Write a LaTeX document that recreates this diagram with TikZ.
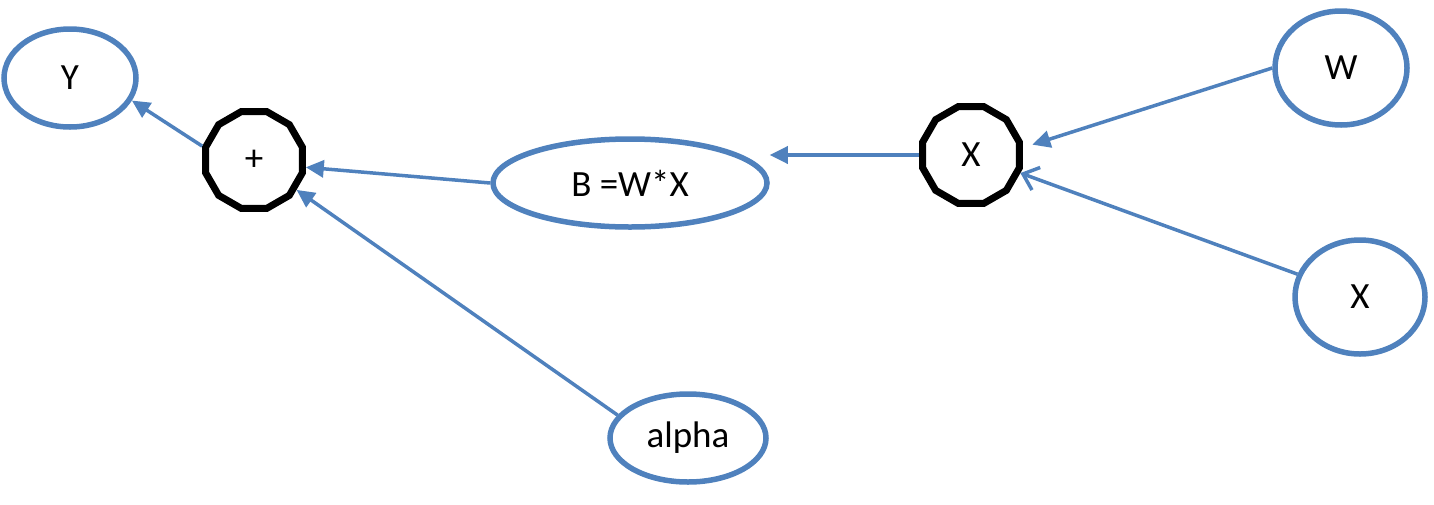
\documentclass[tikz,border=0pt]{standalone}
\usepackage{fontspec}
\setmainfont{Carlito}
\usepackage{xcolor}
\usetikzlibrary{shapes.geometric, arrows.meta}
\definecolor{ofblue}{RGB}{79,129,189}

\begin{document}
\begin{tikzpicture}[x=1pt, y=-1pt, >=Triangle,
    varnode/.style={ellipse, draw=ofblue, line width=5.5pt, inner sep=0pt,
        font=\fontsize{37}{40}\selectfont},
    opnode/.style={regular polygon, regular polygon sides=12, draw=black,
        line width=7pt, inner sep=0pt, minimum size=100pt,
        font=\fontsize{37}{40}\selectfont},
    flow/.style={draw=ofblue, line width=3.5pt, -{Triangle[length=18pt, width=17pt]}},
    openflow/.style={draw=ofblue, line width=3.5pt, -{Straight Barb[length=14pt, width=24pt, line width=3.5pt]}}]

    \useasboundingbox (0,0) rectangle (1434,504);

    % Inputs and result
    \node[varnode, minimum width=132pt, minimum height=98pt] (outY) at (70,78) {Y};
    \node[varnode, minimum width=132pt, minimum height=114pt] (inW) at (1341,68) {W};
    \node[varnode, minimum width=130pt, minimum height=114pt] (inX) at (1360,297) {X};
    \node[varnode, minimum width=156pt, minimum height=88pt] (alpha) at (688,438) {alpha};
    \node[varnode, minimum width=274pt, minimum height=88pt] (prodB) at (630,183) {B =W*X};

    % Operations
    \node[opnode] (plusop) at (254,160) {+};
    \node[opnode] (mulop) at (971,155) {X};

    % Connectors
    \draw[flow, shorten >=10pt] (inW.west) -- (mulop.8);
    \draw[openflow] (inX) -- (mulop);
    \draw[flow] (mulop.west) -- (mulop.west -| prodB.east);
    \draw[flow] (prodB.west) -- (plusop.-8);
    \draw[flow] (alpha.162) -- (plusop);
    \draw[flow] (plusop.165) -- (outY.-20);

\end{tikzpicture}
\end{document}
